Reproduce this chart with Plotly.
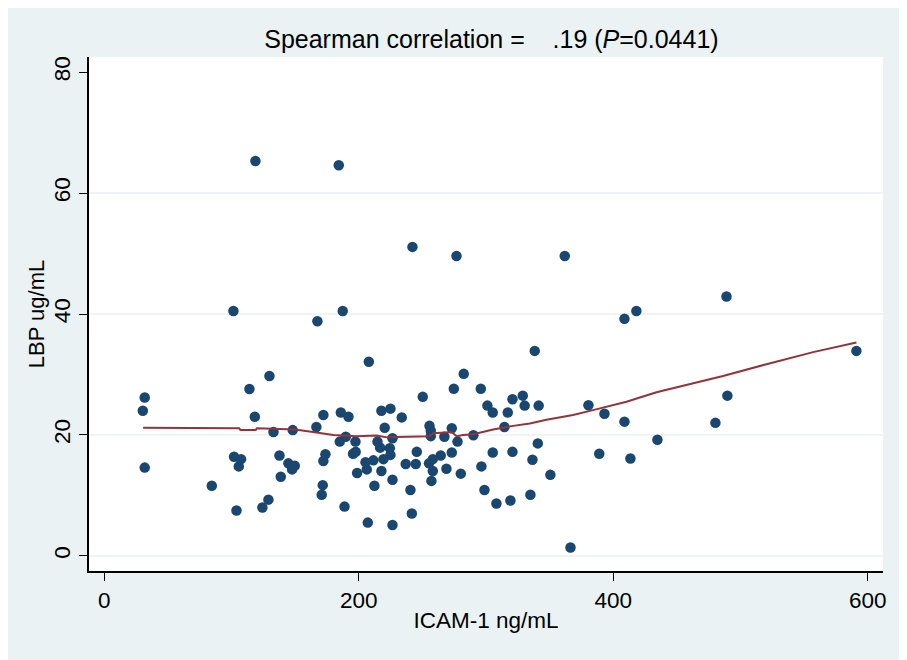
import plotly.graph_objects as go

icam = [118.8, 184.3, 242.2, 276.8, 361.9, 489.0, 101.5, 187.4, 418.2, 408.8,
        167.5, 338.3, 591.1, 207.9, 282.5, 129.8, 114.1, 274.7, 295.9, 489.7,
        328.9, 250.3, 31.8, 320.8, 301.1, 330.4, 341.4, 380.5, 224.9, 30.3,
        217.8, 185.9, 305.3, 317.1, 393.1, 172.2, 118.3, 191.9, 233.8, 408.8,
        480.3, 166.7, 314.5, 255.6, 220.4, 273.1, 148.1, 256.6, 133.0, 290.1,
        256.6, 267.3, 189.8, 226.5, 434.7, 185.1, 197.4, 214.7, 277.6, 340.7,
        216.8, 224.4, 245.6, 273.1, 305.3, 320.8, 195.5, 197.6, 389.0, 173.8,
        224.9, 137.7, 264.4, 102.0, 413.5, 107.5, 219.4, 258.2, 336.5, 211.5,
        172.2, 205.3, 144.7, 255.2, 236.9, 244.8, 149.7, 105.7, 296.4, 31.8,
        268.9, 147.6, 206.3, 217.8, 258.2, 198.7, 280.2, 350.6, 138.7, 226.5,
        257.1, 84.5, 171.7, 212.3, 240.6, 298.8, 170.9, 334.9, 129.0, 319.2,
        308.2, 188.8, 124.3, 103.9, 241.7, 207.1, 226.5, 366.4]
lbp = [65.3, 64.6, 51.1, 49.6, 49.6, 42.9, 40.5, 40.5, 40.5, 39.2,
       38.8, 33.9, 33.9, 32.1, 30.1, 29.75, 27.6, 27.65, 27.65, 26.5,
       26.5, 26.3, 26.2, 25.9, 24.85, 24.85, 24.85, 24.9, 24.35, 24.0,
       24.0, 23.7, 23.7, 23.7, 23.5, 23.3, 23.0, 23.0, 22.9, 22.2,
       22.0, 21.3, 21.3, 21.5, 21.2, 21.1, 20.8, 20.7, 20.5, 19.95,
       19.8, 19.7, 19.7, 19.45, 19.2, 18.9, 18.9, 18.9, 18.9, 18.6,
       17.9, 17.8, 17.2, 17.1, 17.1, 17.2, 16.9, 17.2, 16.9, 16.8,
       16.7, 16.6, 16.6, 16.4, 16.1, 16.0, 16.0, 16.0, 15.9, 15.8,
       15.7, 15.5, 15.3, 15.3, 15.2, 15.2, 14.9, 14.8, 14.8, 14.6,
       14.4, 14.3, 14.3, 14.05, 14.05, 13.7, 13.6, 13.4, 13.1, 12.6,
       12.4, 11.6, 11.7, 11.6, 10.9, 10.9, 10.1, 10.1, 9.3, 9.15,
       8.65, 8.15, 8.0, 7.5, 7.0, 5.5, 5.1, 1.4]

# Lowess smoother
lowess_x = [30.5, 106, 107, 119, 120, 145, 150, 164, 180, 198, 214, 222, 241,
            255, 259, 273, 277, 282, 290, 305.6, 321.3, 334.4, 347.5, 368.4,
            384.1, 410.4, 434, 454.9, 486.3, 520.4, 557.1, 591.1]
lowess_y = [21.2, 21.1, 20.8, 20.8, 21.1, 21.0, 20.9, 20.5, 20.0, 19.8, 19.9,
            19.6, 19.7, 19.8, 20.3, 20.5, 19.8, 20.0, 20.1, 20.9, 21.5, 21.9,
            22.5, 23.3, 24.1, 25.5, 27.05, 28.1, 29.75, 31.7, 33.7, 35.3]

x_ticks = [0, 200, 400, 600]
y_ticks = [0, 20, 40, 60, 80]
grid_values = [0, 20, 40, 60]

title_text = "Spearman correlation =&nbsp;&nbsp;&nbsp;&nbsp;.19 (<i>P</i>=0.0441)"
x_title = "ICAM-1 ng/mL"
y_title = "LBP ug/mL"

FONT = "Liberation Sans, Arial, sans-serif"
BG = "#EAF2F3"

fig = go.Figure()
fig.add_trace(go.Scatter(x=icam, y=lbp, mode="markers",
                         marker=dict(color="#1A476F", size=10.5, line=dict(width=0)),
                         showlegend=False, hoverinfo="x+y"))
fig.add_trace(go.Scatter(x=lowess_x, y=lowess_y, mode="lines",
                         line=dict(color="#90353B", width=2),
                         showlegend=False, hoverinfo="skip"))

shapes = [dict(type="line", xref="paper", x0=0, x1=1, yref="y", y0=v, y1=v,
               line=dict(color=BG, width=1.5), layer="below") for v in grid_values]

fig.update_layout(
    width=907, height=660,
    paper_bgcolor=BG, plot_bgcolor="white",
    margin=dict(l=81, r=32, t=49, b=97),
    font=dict(family=FONT, size=22, color="black"),
    title=dict(text=title_text, x=0.533, xanchor="center", y=0.952, yanchor="middle",
               font=dict(size=25, family=FONT, color="black")),
    shapes=shapes,
    xaxis=dict(range=[-12, 612], tickvals=x_ticks, ticks="outside", ticklen=8,
               tickwidth=1.2, tickcolor="black", showline=True, linecolor="black",
               linewidth=1.5, showgrid=False, zeroline=False,
               tickfont=dict(size=22.5, family=FONT),
               title=dict(text=x_title, standoff=0, font=dict(size=22.5, family=FONT))),
    yaxis=dict(range=[-2.5, 82.5], tickvals=y_ticks, ticks="outside", ticklen=8,
               tickwidth=1.2, tickcolor="black", showline=True, linecolor="black",
               linewidth=1.5, showgrid=False, zeroline=False, tickangle=-90,
               tickfont=dict(size=22.5, family=FONT),
               title=dict(text=y_title, standoff=0, font=dict(size=22, family=FONT))),
)

fig.write_html("out.html")
